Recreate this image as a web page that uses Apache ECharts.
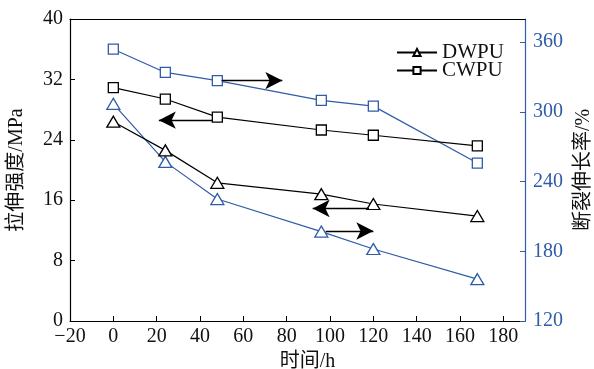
<!DOCTYPE html>
<html>
<head>
<meta charset="utf-8">
<script src="https://cdn.jsdelivr.net/npm/echarts@6/dist/echarts.min.js"></script>
<style>
  html, body { margin: 0; padding: 0; background: #fff; }
  #chart { width: 594px; height: 369px; }
</style>
</head>
<body>
<div id="chart"></div>
<script>
const hours = [0, 24, 48, 96, 120, 168];
const cwpuStrength = [30.9, 29.4, 27.0, 25.3, 24.6, 23.2];
const dwpuStrength = [26.4, 22.6, 18.3, 16.8, 15.5, 13.9];
const cwpuElong = [354, 334, 327, 310, 305, 256];
const dwpuElong = [307, 257, 225, 197, 182, 156];

// arrows: [x from, x to, y] (points at the axis the series belongs to)
const arrowLeftUpper = [46, 21, 26.6];
const arrowRightUpper = [50, 78, 327];
const arrowLeftLower = [118, 92, 14.9];
const arrowRightLower = [98, 120, 197.5];

const BLUE = '#2f5ba8';
const FONT = '"Liberation Serif", "Noto Sans CJK SC", serif';

const pair = (ys) => hours.map((h, i) => [h, ys[i]]);
const arrow = (a) => ({
  data: [[{ coord: [a[0], a[2]] }, { coord: [a[1], a[2]] }]],
  symbol: ['none', 'arrow'],
  symbolSize: [13, 17],
  silent: true,
  label: { show: false },
  lineStyle: { color: '#000', width: 1.3, type: 'solid' },
  animation: false,
});

const chart = echarts.init(document.getElementById('chart'));
chart.setOption({
  animation: false,
  textStyle: { fontFamily: FONT },
  grid: { left: 70, right: 69, top: 19, bottom: 48, outerBoundsMode: 'none', containLabel: false },
  legend: {
    orient: 'vertical',
    left: 391,
    top: 37,
    itemWidth: 40,
    itemHeight: 9,
    itemGap: -3,
    textStyle: { fontFamily: FONT, fontSize: 21, color: '#111' },
    data: ['DWPU', 'CWPU'],
  },
  xAxis: [{
    type: 'value',
    min: -20,
    max: 190,
    interval: 20,
    name: '时间/h',
    nameLocation: 'middle',
    nameGap: 31,
    nameTextStyle: { fontFamily: FONT, fontSize: 20, color: '#111', padding: [0, 0, 0, 20] },
    axisLine: { onZero: false, lineStyle: { color: '#000', width: 1.2 } },
    axisTick: { inside: true, length: 5, lineStyle: { color: '#000' } },
    axisLabel: {
      fontFamily: FONT, fontSize: 20, color: '#111', margin: 6, showMaxLabel: false,
      formatter: (v) => String(v).replace('-', '−'),
    },
    splitLine: { show: false },
  }, {
    type: 'value',
    position: 'top',
    min: -20,
    max: 190,
    axisLine: { show: true, onZero: false, lineStyle: { color: '#000', width: 1.2 } },
    axisTick: { show: false },
    axisLabel: { show: false },
    splitLine: { show: false },
  }],
  yAxis: [{
    type: 'value',
    min: 0,
    max: 40,
    interval: 8,
    name: '拉伸强度/MPa',
    nameLocation: 'middle',
    nameGap: 43,
    nameTextStyle: { fontFamily: FONT, fontSize: 20, color: '#111' },
    axisLine: { show: true, onZero: false, lineStyle: { color: '#000', width: 1.2 } },
    axisTick: { inside: true, length: 5, lineStyle: { color: '#000' } },
    axisLabel: { fontFamily: FONT, fontSize: 20, color: '#111', margin: 7 },
    splitLine: { show: false },
  }, {
    type: 'value',
    min: 120,
    max: 380,
    interval: 60,
    position: 'right',
    name: '断裂伸长率/%',
    nameLocation: 'middle',
    nameGap: 45,
    nameTextStyle: { fontFamily: FONT, fontSize: 20, color: '#111' },
    axisLine: { show: true, onZero: false, lineStyle: { color: BLUE, width: 1.2 } },
    axisTick: { inside: true, length: 5, lineStyle: { color: BLUE } },
    axisLabel: { fontFamily: FONT, fontSize: 20, color: BLUE, margin: 8, showMaxLabel: false },
    splitLine: { show: false },
  }],
  series: [{
    name: 'DWPU',
    type: 'line',
    yAxisIndex: 0,
    data: pair(dwpuStrength),
    symbol: 'triangle',
    symbolSize: [13, 11],
    itemStyle: { color: '#fff', borderColor: '#000', borderWidth: 1.3 },
    lineStyle: { color: '#000', width: 1.2 },
    markLine: arrow(arrowLeftLower),
    z: 3,
  }, {
    name: 'CWPU',
    type: 'line',
    yAxisIndex: 0,
    data: pair(cwpuStrength),
    symbol: 'rect',
    symbolSize: 10,
    itemStyle: { color: '#fff', borderColor: '#000', borderWidth: 1.3 },
    lineStyle: { color: '#000', width: 1.2 },
    markLine: arrow(arrowLeftUpper),
    z: 3,
  }, {
    name: 'DWPU',
    type: 'line',
    yAxisIndex: 1,
    data: pair(dwpuElong),
    symbol: 'triangle',
    symbolSize: [13, 11],
    itemStyle: { color: '#fff', borderColor: BLUE, borderWidth: 1.3 },
    lineStyle: { color: BLUE, width: 1.2 },
    markLine: arrow(arrowRightLower),
    z: 2,
  }, {
    name: 'CWPU',
    type: 'line',
    yAxisIndex: 1,
    data: pair(cwpuElong),
    symbol: 'rect',
    symbolSize: 10,
    itemStyle: { color: '#fff', borderColor: BLUE, borderWidth: 1.3 },
    lineStyle: { color: BLUE, width: 1.2 },
    markLine: arrow(arrowRightUpper),
    z: 2,
  }],
});
</script>
</body>
</html>
